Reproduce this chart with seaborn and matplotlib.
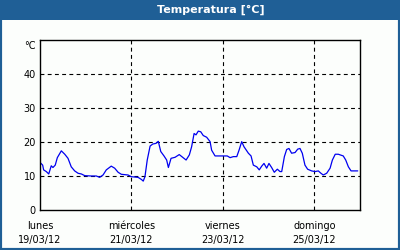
import matplotlib
matplotlib.use("Agg")
import matplotlib.pyplot as plt
from matplotlib.patches import Rectangle
import seaborn as sns
import pandas as pd

# hours since 19/03/12 00:00
hours = [0.0, 1.4, 1.9, 3.3, 4.6, 5.9, 6.8, 8.0, 9.1, 11.2, 13.0, 14.7, 16.4, 18.2,
         20.0, 21.7, 23.5, 26.9, 29.6, 31.3, 33.1, 34.8, 37.4, 39.2, 41.0, 42.7,
         46.2, 47.9, 51.5, 53.2, 54.2, 55.1, 56.3, 57.8, 59.2, 60.9, 62.1, 63.4,
         65.1, 66.5, 67.4, 68.8, 70.9, 73.1, 74.9, 76.7, 78.4, 79.6, 80.9, 81.9,
         83.1, 84.4, 85.7, 87.5, 89.3, 90.1, 91.9, 94.5, 98.3, 99.8, 101.5, 103.3,
         104.5, 105.9, 107.1, 108.8, 109.4, 110.8, 112.0, 113.8, 115.1, 116.4,
         117.6, 119.0, 120.2, 121.6, 123.0, 124.6, 126.0, 126.9, 128.3, 129.5,
         130.7, 132.1, 133.9, 135.3, 136.5, 137.7, 139.1, 140.5, 142.6, 144.4,
         146.1, 147.5, 148.7, 150.5, 152.3, 153.5, 155.0, 156.6, 159.2, 160.5,
         161.9, 163.3, 166.8]
temps = [14.0, 13.2, 11.8, 11.3, 10.6, 13.0, 12.5, 13.2, 15.4, 17.4, 16.4, 15.2, 12.7, 11.5,
         10.8, 10.6, 10.1, 10.0, 10.0, 9.6, 10.3, 11.8, 12.9, 12.3, 11.1, 10.5,
         10.3, 9.8, 9.6, 9.0, 8.5, 9.8, 14.7, 18.8, 19.4, 19.6, 20.2, 17.2,
         15.9, 14.7, 12.5, 15.2, 15.5, 16.3, 15.5, 14.7, 16.2, 18.6, 22.5, 22.1,
         23.2, 23.0, 21.9, 21.4, 20.1, 17.6, 15.9, 15.9, 15.9, 15.4, 15.7, 15.7,
         17.6, 20.1, 18.6, 17.2, 16.7, 15.9, 13.2, 12.7, 11.8, 12.9,
         13.7, 12.3, 13.7, 12.5, 11.1, 12.0, 11.3, 11.3, 15.7, 17.8,
         18.1, 16.7, 16.9, 17.9, 18.1, 16.7, 13.2, 12.0, 11.5, 11.3,
         11.5, 10.8, 10.3, 10.8, 12.3, 14.7, 16.4, 16.4, 15.9, 14.7,
         12.7, 11.5, 11.5]

day_ticks = [0, 48, 96, 144]
day_labels = ["lunes\n19/03/12", "miércoles\n21/03/12", "viernes\n23/03/12", "domingo\n25/03/12"]
minor_ticks = [24, 72, 120, 168]
y_ticks = [0, 10, 20, 30, 40]
title = "Temperatura [°C]"
unit = "°C"

sns.set_theme(style="white")
plt.rcParams['font.family'] = ['DejaVu Sans']

BLUE = "#1F5F96"
BG = "#FCFEFC"

fig = plt.figure(figsize=(4, 2.5), dpi=100, facecolor=BG)
ax = fig.add_axes([40/400, 40/250, 320/400, 170/250])
ax.set_facecolor(BG)

df = pd.DataFrame({"h": hours, "t": temps})
sns.lineplot(data=df, x="h", y="t", ax=ax, color="#0000F0", linewidth=0.9)

ax.set_xlim(0, 168)
ax.set_ylim(0, 50)
ax.set_xlabel("")
ax.set_ylabel("")

ax.set_yticks(y_ticks)
ax.set_yticklabels([str(v) for v in y_ticks])
ax.set_xticks(day_ticks)
ax.set_xticklabels(day_labels, linespacing=1.45)
ax.set_xticks(minor_ticks, minor=True)

for v in y_ticks[1:]:
    ax.axhline(v, color="black", lw=0.8, ls=(0, (3.5, 3)), zorder=1)
for d in day_ticks[1:]:
    ax.axvline(d, color="black", lw=0.8, ls=(0, (3.5, 3)), zorder=1)

ax.tick_params(axis="y", length=0, pad=3, labelsize=7, colors="black")
ax.tick_params(axis="x", which="both", direction="in", length=3, width=0.8,
               pad=8, labelsize=7, colors="black")
for s in ax.spines.values():
    s.set_color("black")
    s.set_linewidth(1.0)

ax.annotate(unit, xy=(0, 50), xycoords=("axes fraction", "data"),
            xytext=(-4, -6), textcoords="offset pixels",
            ha="right", va="center", fontsize=7, color="black")

# title bar
fig.patches.append(Rectangle((0, 230/250), 1, 20/250, transform=fig.transFigure,
                             facecolor=BLUE, edgecolor="none", zorder=0))
fig.text(0.527, 240/250, title, ha="center", va="center", color="white",
         fontsize=8, fontweight="bold")
# outer frame
fig.patches.append(Rectangle((0, 0), 1, 1, transform=fig.transFigure,
                             facecolor="none", edgecolor=BLUE, linewidth=3, zorder=5))

fig.savefig("out.png", dpi=100, facecolor=BG)
